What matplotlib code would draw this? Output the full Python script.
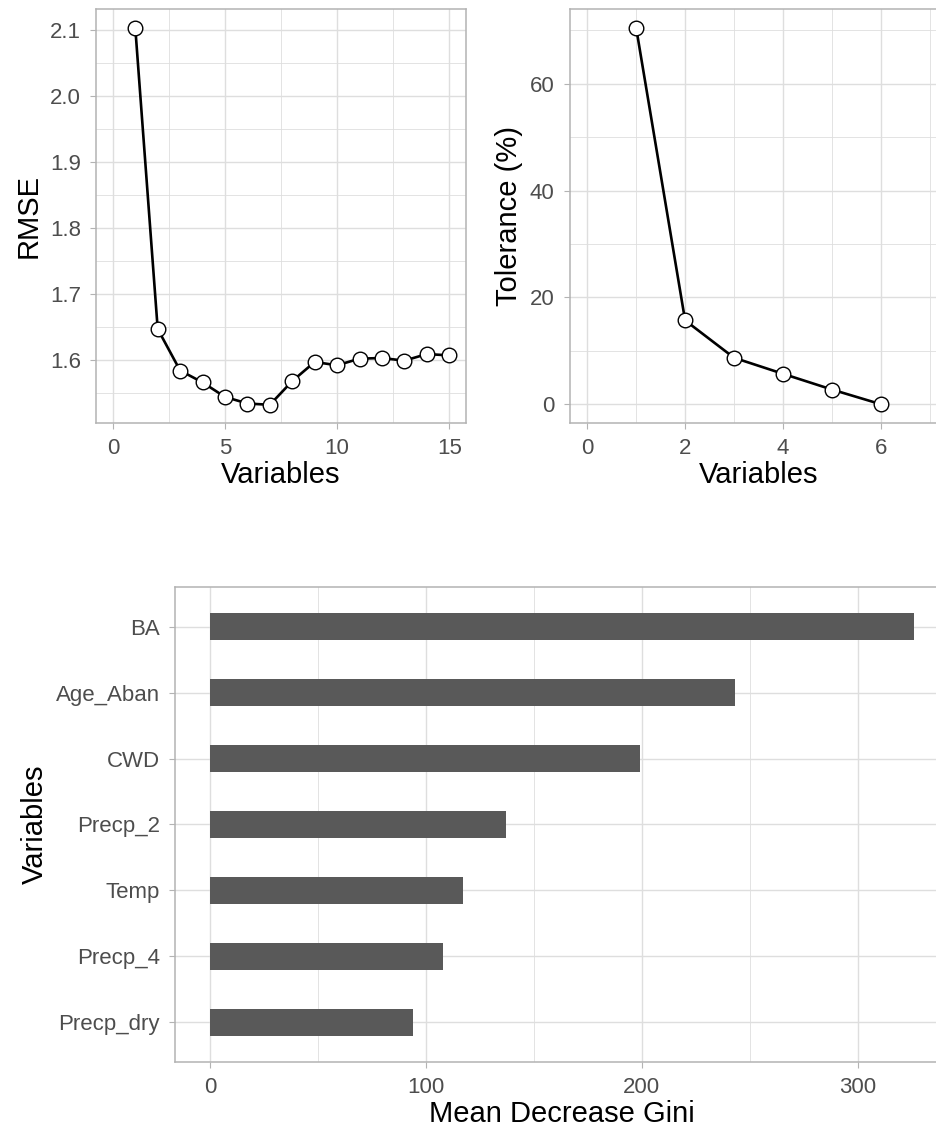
import numpy as np
import matplotlib
matplotlib.use("Agg")
import matplotlib.pyplot as plt
from matplotlib.ticker import MultipleLocator, FormatStrFormatter

# ---- data ----
rmse_vars = [1, 2, 3, 4, 5, 6, 7, 8, 9, 10, 11, 12, 13, 14, 15]
rmse_vals = [2.104, 1.647, 1.584, 1.566, 1.544, 1.534, 1.532, 1.568,
             1.597, 1.592, 1.602, 1.603, 1.599, 1.609, 1.607]

tol_vars = [1, 2, 3, 4, 5, 6]
tol_vals = [70.5, 15.7, 8.7, 5.7, 2.75, 0.0]

gini_vars = ["BA", "Age_Aban", "CWD", "Precp_2", "Temp", "Precp_4", "Precp_dry"]
gini_vals = [326, 243, 199, 137, 117, 108, 94]

plt.rcParams["font.family"] = ["Liberation Sans", "DejaVu Sans"]

BORDER = "#B3B3B3"
GRID = "#DEDEDE"
TICKTXT = "#4D4D4D"
TICKSIZE = 16
TITLESIZE = 21


def light_theme(ax, xmajor, xminor, ymajor=None, yminor=None):
    for s in ax.spines.values():
        s.set_color(BORDER)
        s.set_linewidth(1.1)
    ax.xaxis.set_major_locator(MultipleLocator(xmajor))
    ax.xaxis.set_minor_locator(MultipleLocator(xminor))
    if ymajor is not None:
        ax.yaxis.set_major_locator(MultipleLocator(ymajor))
        ax.yaxis.set_minor_locator(MultipleLocator(yminor))
    ax.grid(which="major", color=GRID, linewidth=1.0)
    ax.grid(which="minor", color=GRID, linewidth=0.6)
    ax.set_axisbelow(True)
    ax.tick_params(which="major", length=4, width=0.8, color=BORDER,
                   labelcolor=TICKTXT, labelsize=TICKSIZE, pad=7)
    ax.tick_params(which="minor", length=0)


fig = plt.figure(figsize=(9.36, 11.33), dpi=100)

# RMSE panel
ax1 = fig.add_axes([0.1026, 0.6267, 0.3953, 0.3654])
ax1.plot(rmse_vars, rmse_vals, color="black", linewidth=1.9,
         marker="o", markersize=10.5, markerfacecolor="white",
         markeredgecolor="black", markeredgewidth=1.0, zorder=3)
ax1.set_xlim(-0.75, 15.75)
ax1.set_ylim(1.5045, 2.1325)
light_theme(ax1, 5, 2.5, 0.1, 0.05)
ax1.yaxis.set_major_formatter(FormatStrFormatter("%.1f"))
ax1.set_xlabel("Variables", fontsize=TITLESIZE, labelpad=1)
ax1.set_ylabel("RMSE", fontsize=TITLESIZE, labelpad=5)

# Tolerance panel
ax2 = fig.add_axes([0.609, 0.6267, 0.4028, 0.3654])
ax2.plot(tol_vars, tol_vals, color="black", linewidth=1.9,
         marker="o", markersize=10.5, markerfacecolor="white",
         markeredgecolor="black", markeredgewidth=1.0, zorder=3)
ax2.set_xlim(-0.35, 7.35)
ax2.set_ylim(-3.5, 74.0)
light_theme(ax2, 2, 1, 20, 10)
ax2.set_xlabel("Variables", fontsize=TITLESIZE, labelpad=1)
ax2.set_ylabel("Tolerance (%)", fontsize=TITLESIZE, labelpad=5)

# Mean Decrease Gini panel
ax3 = fig.add_axes([0.187, 0.0627, 0.827, 0.4192])
pos = np.arange(len(gini_vars))[::-1]
ax3.barh(pos, gini_vals, height=0.4, color="#595959", zorder=3)
ax3.set_yticks(pos)
ax3.set_yticklabels(gini_vars)
ax3.set_ylim(-0.6, len(gini_vars) - 1 + 0.6)
ax3.set_xlim(-16.3, 342.3)
light_theme(ax3, 100, 50)
ax3.grid(which="major", axis="y", color=GRID, linewidth=1.0)
ax3.set_xlabel("Mean Decrease Gini", fontsize=TITLESIZE, labelpad=1)
ax3.set_ylabel("Variables", fontsize=TITLESIZE, labelpad=5)

fig.savefig("out.png", dpi=100)
